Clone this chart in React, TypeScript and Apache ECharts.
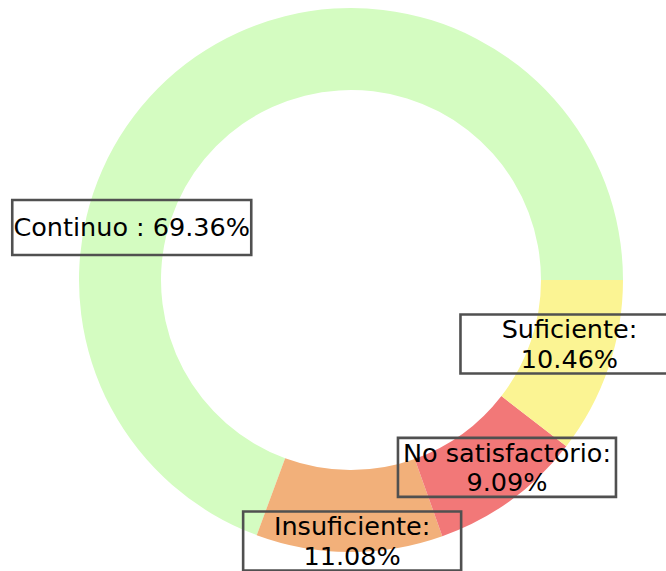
import React, { useEffect, useRef } from "react";
import * as echarts from "echarts";

const categories = ["Continuo", "Insuficiente", "No satisfactorio", "Suficiente"];
const values = [69.36, 11.08, 9.09, 10.46];
const colors = ["#d4fcc1", "#f2b07a", "#f27878", "#fbf493"];
// label text layout: single line for Continuo, two lines for the others
const singleLine = [true, false, false, false];
// label offsets from the ring's mid-radius position (px)
const labelShiftX = [-85.5, 2.5, 18.5, -3];
const labelShiftY = [139.5, 27, -2, -11.5];

export default function App() {
  const ref = useRef<HTMLDivElement>(null);
  useEffect(() => {
    if (!ref.current) return;
    const chart = echarts.init(ref.current, null, { renderer: "svg" });
    const data = categories.map((name, i) => {
      const one = singleLine[i];
      return {
        name,
        value: values[i],
        itemStyle: { color: colors[i] },
        label: one
          ? {
              formatter: `${name} : ${values[i].toFixed(2)}%`,
              width: 233,
              height: 31,
              lineHeight: 31,
              padding: [12, 3, 12, 3],
            }
          : {
              formatter: `${name}:\n${values[i].toFixed(2)}%`,
              width: 207,
              lineHeight: 29.5,
              padding: [0, 5.5, 0, 5.5],
            },
      };
    });
    chart.setOption({
      animation: false,
      series: [
        {
          type: "pie",
          center: [351, 280],
          radius: [190, 272],
          startAngle: 0,
          clockwise: false,
          avoidLabelOverlap: false,
          emphasis: { disabled: true },
          label: {
            show: true,
            position: "inside",
            fontFamily: "DejaVu Sans",
            fontSize: 25.5,
            overflow: "none",
            color: "#000",
            align: "center",
            verticalAlign: "middle",
            borderColor: "#505050",
            borderWidth: 1.3,
            backgroundColor: "transparent",
          },
          labelLine: { show: false },
          labelLayout: (params: any) => ({
            dx: labelShiftX[params.dataIndex],
            dy: labelShiftY[params.dataIndex],
          }),
          data,
        },
      ],
    });
    return () => chart.dispose();
  }, []);
  return (
    <div
      ref={ref}
      style={{ position: "fixed", left: 0, top: 0, width: 666, height: 571, background: "#fff" }}
    />
  );
}
